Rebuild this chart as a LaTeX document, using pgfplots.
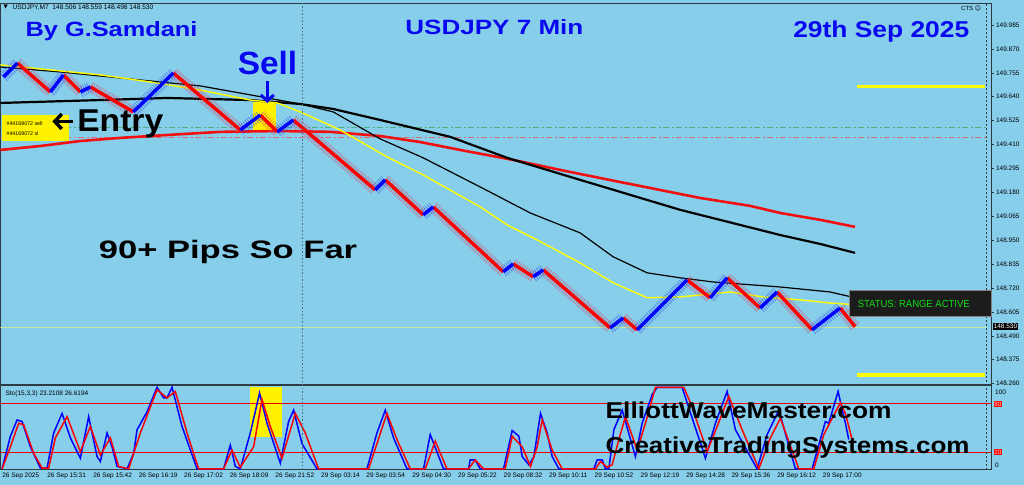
\documentclass[border=0pt]{standalone}
\usepackage{pgfplots}
\pgfplotsset{compat=1.18}
\usepackage{pgfplotstable}
\usepackage{graphicx}
\usepackage{fontspec}
\setmainfont{Liberation Sans}
\newfontfamily\dejavu{DejaVu Sans}
\usetikzlibrary{arrows.meta}

\definecolor{bgc}{HTML}{87CEEB}
\definecolor{axisc}{HTML}{2E3A44}
\definecolor{pred}{HTML}{FF0000}
\definecolor{pblue}{HTML}{0000FF}
\definecolor{redhalo}{HTML}{D83A5A}
\definecolor{bluehalo}{HTML}{2A4AF0}
\definecolor{maRed}{HTML}{F01010}
\definecolor{maYel}{HTML}{FFFF00}
\definecolor{dashgreen}{HTML}{4FAF80}
\definecolor{dashred}{HTML}{D07078}
\definecolor{lastc}{HTML}{C6E69A}
\definecolor{txtblue}{HTML}{0808F0}
\definecolor{sepc}{HTML}{4C6C82}
\definecolor{statbg}{HTML}{1C1C1C}
\definecolor{statg}{HTML}{10E010}
\definecolor{lvl}{HTML}{F00000}

\newcommand{\fit}[3]{\resizebox{#1pt}{#2pt}{\bfseries #3}}

% renko path, pixel x and price; nan breaks the line
\pgfplotstableread{
x y
17 149.802
50 149.663
56 nan
63 149.745
80 149.663
85 nan
90 149.687
133 149.567
150 nan
173 149.754
240 149.480
250 nan
260 149.552
277 149.471
285 nan
293 149.528
375 149.192
380 nan
385 149.240
423 149.072
428 nan
433 149.110
503 148.798
508 nan
513 148.836
533 148.774
538 nan
543 148.807
610 148.528
615 nan
623 148.576
637 148.519
660 nan
687 148.759
710 148.673
718 nan
727 148.769
760 148.624
768 nan
777 148.701
812 148.519
825 nan
840 148.624
855 148.534
}\redpath

\pgfplotstableread{
x y
3 149.735
17 149.802
30 nan
50 149.663
63 149.745
70 nan
80 149.663
90 149.687
110 nan
133 149.567
173 149.754
200 nan
240 149.480
260 149.552
268 nan
277 149.471
293 149.528
330 nan
375 149.192
385 149.240
400 nan
423 149.072
433 149.110
460 nan
503 148.798
513 148.836
520 nan
533 148.774
543 148.807
580 nan
610 148.528
623 148.576
630 nan
637 148.519
687 148.759
700 nan
710 148.673
727 148.769
740 nan
760 148.624
777 148.701
790 nan
812 148.519
840 148.624
}\bluepath

\begin{document}
\begin{tikzpicture}[x=1pt,y=1pt]
\fill[bgc] (0,0) rectangle (1024,485);

% ---------------- price panel ----------------
\begin{axis}[
  at={(0pt,100pt)}, anchor=south west, scale only axis,
  width=991pt, height=382pt,
  xmin=0, xmax=991, ymin=148.2542, ymax=150.0908,
  axis line style={draw=axisc, line width=0.8pt},
  xtick=\empty,
  ytick={149.985,149.870,149.755,149.640,149.525,149.410,149.295,149.180,149.065,148.950,148.835,148.720,148.605,148.490,148.375,148.260},
  yticklabels={149.985,149.870,149.755,149.640,149.525,149.410,149.295,149.180,149.065,148.950,148.835,148.720,148.605,148.490,148.375,148.260},
  ytick pos=right, tick align=outside, major tick length=3pt,
  tick style={axisc, line width=0.5pt},
  yticklabel style={font=\fontsize{6.5}{7}\selectfont, anchor=west, xshift=-1.5pt, text=black},
  clip=true,
]
% horizontal levels
\addplot[dashgreen, line width=1.2pt, dash pattern=on 6pt off 2.5pt on 2pt off 2.5pt] coordinates {(0,149.491) (986,149.491)};
\addplot[dashred, line width=1.2pt, dash pattern=on 6pt off 2.5pt on 2pt off 2.5pt] coordinates {(0,149.443) (986,149.443)};
\addplot[lastc, line width=1.2pt] coordinates {(0,148.530) (986,148.530)};
\addplot[maYel, line width=3.2pt] coordinates {(857,149.690) (985,149.690)};
\addplot[maYel, line width=3.2pt] coordinates {(857,148.302) (985,148.302)};
% sell box
\fill[yellow] (axis cs:253,149.615) rectangle (axis cs:276,149.471);
% moving averages
\addplot[maRed, line width=2.6pt] coordinates {(0,149.384) (40,149.403) (80,149.427) (120,149.442) (167,149.456) (220,149.471) (280,149.475) (330,149.471) (380,149.451) (420,149.422) (460,149.384) (513,149.336) (560,149.288) (600,149.249) (650,149.201) (700,149.153) (750,149.115) (780,149.081) (820,149.048) (855,149.014)};
\addplot[black, line width=2.2pt] coordinates {(0,149.610) (100,149.624) (167,149.634) (250,149.624) (300,149.605) (333,149.581) (380,149.528) (450,149.447) (507,149.346) (580,149.240) (680,149.096) (780,148.975) (820,148.932) (855,148.889)};
\addplot[black, line width=1.2pt] coordinates {(0,149.783) (60,149.759) (120,149.730) (200,149.692) (250,149.649) (300,149.605) (333,149.567) (380,149.437) (423,149.346) (480,149.206) (530,149.081) (580,148.985) (613,148.870) (647,148.793) (680,148.769) (713,148.749) (780,148.725) (830,148.701) (855,148.673)};
\addplot[maYel, line width=1.4pt] coordinates {(0,149.793) (50,149.769) (100,149.745) (150,149.711) (200,149.672) (250,149.624) (277,149.610) (300,149.567) (340,149.480) (387,149.350) (423,149.264) (480,149.110) (507,149.023) (537,148.951) (580,148.841) (613,148.745) (647,148.673) (680,148.677) (730,148.701) (763,148.677) (800,148.663) (830,148.648) (855,148.639)};
% price
\addplot[redhalo, line width=11pt, opacity=0.6, dash pattern=on 0.7pt off 1.6pt, unbounded coords=jump] table {\redpath};
\addplot[bluehalo, line width=11pt, opacity=0.6, dash pattern=on 0.7pt off 1.6pt, unbounded coords=jump] table {\bluepath};
\addplot[pred, line width=3.4pt, line join=round, unbounded coords=jump] table {\redpath};
\addplot[pblue, line width=3.4pt, line join=round, unbounded coords=jump] table {\bluepath};
\end{axis}

% ---------------- stochastic panel ----------------
\begin{axis}[
  at={(0pt,15pt)}, anchor=south west, scale only axis,
  width=991pt, height=84pt,
  xmin=0, xmax=991, ymin=-1.2, ymax=101.8,
  axis line style={draw=axisc, line width=0.8pt},
  ytick=\empty,
  xtick={1.7,46.7,92.7,138.3,183.7,229.3,275,320.7,366,412,457.7,503.3,548.7,594.3,640.3,686,731.3,777,822.7},
  xticklabels={26 Sep 2025,26 Sep 15:31,26 Sep 15:42,26 Sep 16:19,26 Sep 17:02,26 Sep 18:09,26 Sep 21:52,29 Sep 03:14,29 Sep 03:54,29 Sep 04:30,29 Sep 05:22,29 Sep 08:32,29 Sep 10:11,29 Sep 10:52,29 Sep 12:19,29 Sep 14:28,29 Sep 15:36,29 Sep 16:12,29 Sep 17:00},
  xtick pos=bottom, major tick length=0pt,
  xticklabel style={font=\fontsize{6.5}{7}\selectfont, anchor=north west, inner sep=0pt, xshift=0pt, yshift=-3pt, text=black},
  clip=true,
]
\fill[yellow] (axis cs:250,100.2) rectangle (axis cs:281.7,39.6);
\addplot[lvl, line width=1.2pt] coordinates {(0,79.8) (991,79.8)};
\addplot[lvl, line width=1.2pt] coordinates {(0,20.3) (991,20.3)};
\addplot[pblue, line width=1.5pt] coordinates {(1.7,0) (10,40) (16.7,60) (21.7,58) (30,27) (40,1) (46.7,1) (53.3,44) (61.7,68) (70,38) (80,13) (88.3,64) (96.7,15) (100,9) (106.7,44) (111.7,27) (116.7,3) (126.7,0) (133.3,19) (136.7,48) (146.7,70) (156.7,100) (163.3,87) (166.7,87) (171.7,100) (181.7,52) (196.7,0) (223.3,0) (230,29) (235,3) (240,0) (250,44) (259.3,93) (266.7,56) (280,7) (288.3,58) (293.3,72) (301.7,31) (316.7,0) (366.7,0) (376.7,44) (385,72) (393.3,38) (406.7,0) (423.3,0) (430,42) (443.3,0) (468.3,0) (470,11) (475,11) (480,0) (503.3,0) (512,47) (518.7,40) (522,15) (528.7,5) (533.7,15) (540.3,68) (547,44) (552,15) (558.7,0) (593.7,0) (597,11) (602,11) (605.3,0) (608.7,0) (613.7,48) (622,72) (635.3,15) (642,56) (652,91) (657,100) (682,100) (693.7,56) (705.3,13) (715.3,56) (727,95) (735.3,48) (757,0) (767,42) (778.7,72) (795.3,0) (812,0) (825.3,58) (828.7,56) (838,95) (845.3,56) (848.7,36)};
\addplot[pred, line width=1.5pt] coordinates {(1.7,0) (10,27) (18.3,56) (23.3,54) (33.3,19) (41.7,1) (48.3,1) (55,38) (66.7,64) (80,21) (90,52) (100,17) (110,38) (118.3,3) (128.3,0) (140,44) (156.7,97) (166.7,87) (175,95) (186.7,44) (198.3,0) (223.3,0) (231.7,23) (240,2) (253.3,27) (261.7,85) (270,52) (281.7,13) (295,68) (305,44) (318.3,0) (368.3,0) (386.7,68) (396.7,36) (410,0) (425,0) (435,34) (446.7,0) (468.3,0) (475,11) (483.3,0) (505,0) (512,40) (522,27) (530.3,3) (537,27) (542,60) (552,23) (562,0) (595.3,0) (600.3,9) (607,2) (612,5) (618.7,36) (625.3,64) (637,23) (645.3,56) (655.3,100) (683.7,100) (692,76) (707,21) (717,52) (728.7,89) (742,48) (758.7,0) (770.3,38) (780.3,62) (798.7,0) (813.7,0) (823.7,42) (828.7,54) (840.3,81) (845.3,68) (852,36)};
\end{axis}

% separators
\draw[sepc, line width=0.8pt, dash pattern=on 1.5pt off 2pt] (301.7,15) -- (301.7,482);
\draw[axisc, line width=0.8pt, dash pattern=on 2pt off 2pt] (986,15) -- (986,482);

% boxes and labels on the right
\fill[statbg] (849,485-290) rectangle (991,485-316.7);
\draw[gray, line width=0.4pt] (849,485-290) rectangle (991,485-316.7);
\node[anchor=west, inner sep=0pt, text=statg] at (857.5,485-304) {\resizebox{112pt}{7.2pt}{STATUS: RANGE ACTIVE}};
\node[fill=black, text=white, inner sep=1pt, anchor=west, font=\fontsize{6.5}{7}\selectfont] at (992.5,485-326.7) {148.530};
\node[anchor=west, inner sep=0pt, font=\fontsize{6.5}{7}\selectfont] at (995,485-392) {100};
\node[anchor=west, inner sep=0pt, font=\fontsize{6.5}{7}\selectfont] at (995,485-465.5) {0};
\node[anchor=west, fill=red, text=pink, inner sep=0.6pt, font=\fontsize{6.3}{7}\selectfont] at (993.5,485-404) {80};
\node[anchor=west, fill=red, text=pink, inner sep=0.6pt, font=\fontsize{6.3}{7}\selectfont] at (993.5,485-452.3) {20};
\node[anchor=west, inner sep=0pt, font=\fontsize{6}{7}\selectfont] at (961,485-8) {CTS {\dejavu ☺}};

% header and small texts
\node[anchor=west, inner sep=0pt, font=\fontsize{5.5}{6}\dejavu] at (3,485-7.5) {▼};
\node[anchor=west, inner sep=0pt, font=\fontsize{6.6}{7}\selectfont] at (12,485-7.5) {USDJPY,M7\ \ 148.506 148.559 148.498 148.530};
\node[anchor=west, inner sep=0pt, font=\fontsize{6.5}{7}\selectfont] at (5,485-394) {Sto(15,3,3) 23.2108 26.6194};

% entry label
\fill[yellow] (1.7,485-115) rectangle (68.3,485-140.7);
\node[anchor=west, inner sep=0pt, font=\fontsize{5.3}{6}\selectfont] at (6,485-124) {\#44169072 sell};
\node[anchor=west, inner sep=0pt, font=\fontsize{5.3}{6}\selectfont] at (6,485-134) {\#44169072 sl};

% big annotations
\node[anchor=base west, inner sep=0pt, text=txtblue] at (25,485-36.7) {\fit{172}{15}{By G.Samdani}};
\node[anchor=base west, inner sep=0pt, text=txtblue] at (405,485-35) {\fit{178}{15}{USDJPY 7 Min}};
\node[anchor=base west, inner sep=0pt, text=txtblue] at (793,485-37.3) {\fit{176}{16.6}{29th Sep 2025}};
\node[anchor=base west, inner sep=0pt, text=txtblue] at (237.3,485-75) {\fit{59.4}{23.3}{Sell}};
\draw[txtblue, line width=3pt, -{Straight Barb[length=6pt, width=13pt, line width=3pt]}] (267,485-81) -- (267,485-103);
\draw[black, line width=3.5pt, -{Straight Barb[length=7pt, width=15pt, line width=3.5pt]}] (73,485-121.5) -- (52,485-121.5);
\node[anchor=base west, inner sep=0pt] at (76.7,485-131.7) {\fit{86}{21.7}{Entry}};
\node[anchor=base west, inner sep=0pt] at (98.3,485-259) {\fit{258.4}{18.3}{90+ Pips So Far}};
\node[anchor=base west, inner sep=0pt] at (605.3,485-418.3) {\fit{286}{16.6}{ElliottWaveMaster.com}};
\node[anchor=base west, inner sep=0pt] at (605.3,485-454) {\fit{364}{16.7}{CreativeTradingSystems.com}};
\end{tikzpicture}
\end{document}
